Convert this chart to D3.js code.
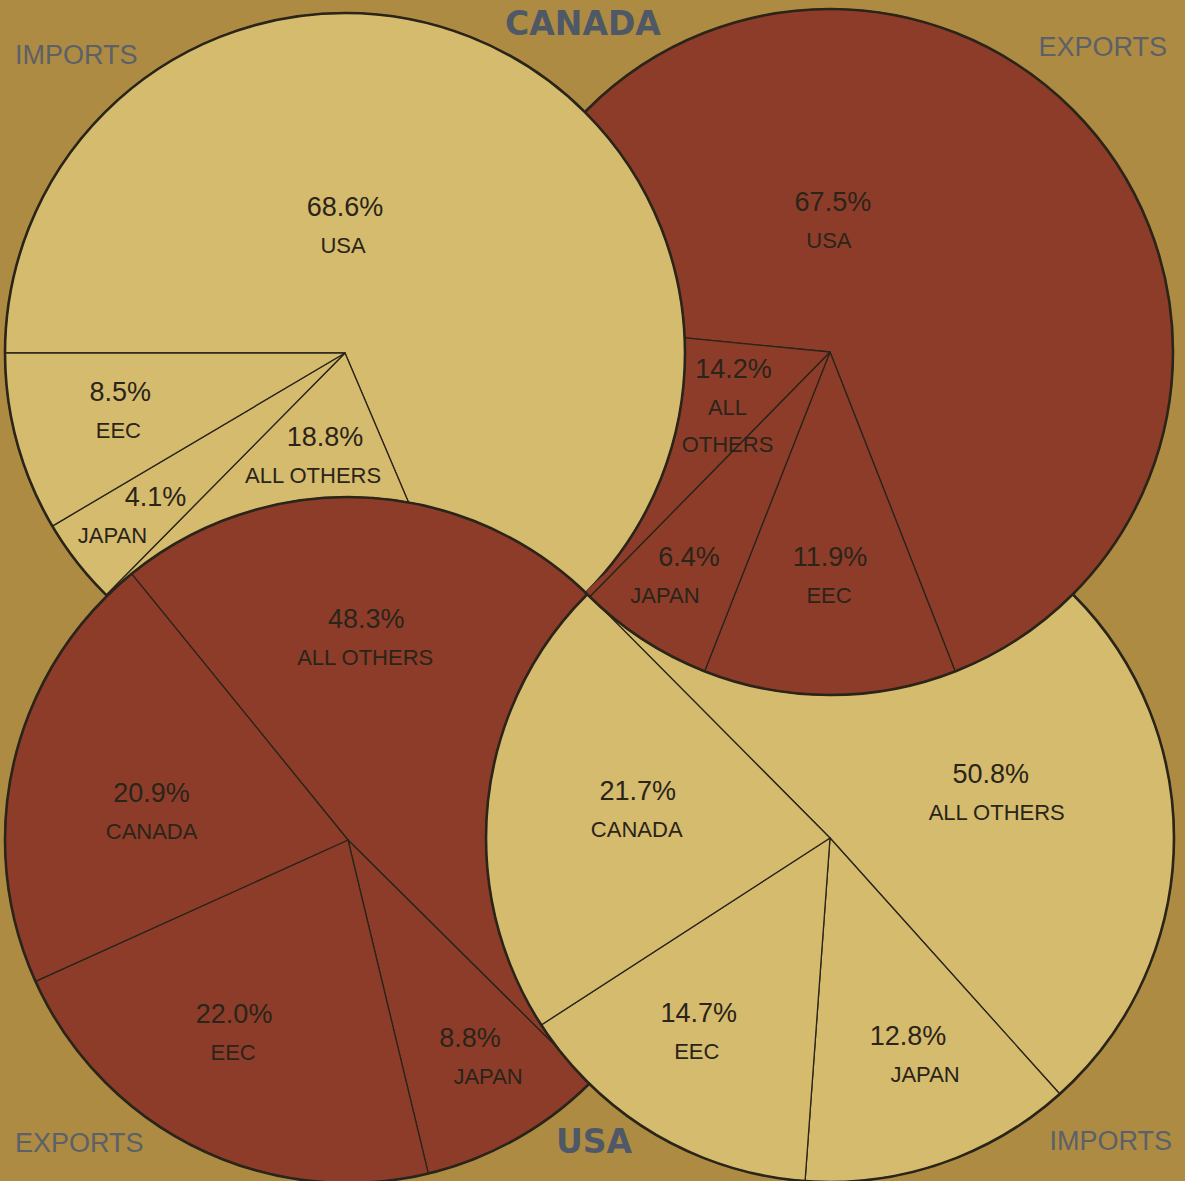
<!DOCTYPE html>
<html lang="en">
<head>
  <meta charset="UTF-8">
  <title>Canada / USA trade</title>
  <script src="https://d3js.org/d3.v7.min.js"></script>
  <style>
    body { margin: 0; padding: 0; background: #ad8b42; }
    svg { display: block; }
  </style>
</head>
<body>
  <svg id="chart"></svg>
  <script>
    // values (percent shares), in clockwise order
    const canadaImportsNames = ["USA", "ALL OTHERS", "JAPAN", "EEC"];
    const canadaImportsValues = [68.6, 18.8, 4.1, 8.5];

    const canadaExportsNames = ["USA", "EEC", "JAPAN", "ALL\nOTHERS"];
    const canadaExportsValues = [67.5, 11.9, 6.4, 14.2];

    const usaExportsNames = ["ALL OTHERS", "JAPAN", "EEC", "CANADA"];
    const usaExportsValues = [48.3, 8.8, 22.0, 20.9];

    const usaImportsNames = ["ALL OTHERS", "JAPAN", "EEC", "CANADA"];
    const usaImportsValues = [50.8, 12.8, 14.7, 21.7];

    const width = 1185, height = 1181;
    const yellow = "#d5bb6d", red = "#8d3c2a", ink = "#2a2419";
    const rad = d => d * Math.PI / 180;

    // layout of each pie: centre, radius, start angle, label spots [angle, distance, name dx]
    const pies = {
      canadaImports: { names: canadaImportsNames, values: canadaImportsValues, fill: yellow,
        cx: 345, cy: 353, r: 340, start: -90,
        labels: [[0, 146, -2], [193.4, 86, -12], [232.8, 238, -43], [260.2, 228, -2]] },
      canadaExports: { names: canadaExportsNames, values: canadaExportsValues, fill: red,
        cx: 830, cy: 352, r: 343, start: -84.4,
        labels: [[1.1, 150, -4], [180, 205, -1], [214.5, 249, -24], [260, 98, -6]] },
      usaExports: { names: usaExportsNames, values: usaExportsValues, fill: red,
        cx: 348, cy: 840, r: 343, start: -39.1,
        labels: [[4.7, 222, -1], [148.4, 233, 18], [213.2, 208, -1], [283.5, 202, 0]] },
      usaImports: { names: usaImportsNames, values: usaImportsValues, fill: yellow,
        cx: 830, cy: 838, r: 344, start: -44.8,
        labels: [[68.3, 173, 6], [158.5, 213, 17], [216.8, 219, -2], [283.8, 198, -1]] }
    };

    const svg = d3.select("#chart").attr("width", width).attr("height", height);
    svg.append("rect").attr("width", width).attr("height", height).attr("fill", "#ad8b42");

    function drawPie(parent, p) {
      const g = parent.append("g").attr("transform", `translate(${p.cx},${p.cy})`);
      const arcs = d3.pie().sort(null)
        .startAngle(rad(p.start)).endAngle(rad(p.start + 360))(p.values);
      const arc = d3.arc().innerRadius(0).outerRadius(p.r);

      g.selectAll("path.slice").data(arcs).join("path")
        .attr("class", "slice")
        .attr("d", arc)
        .attr("fill", p.fill)
        .attr("stroke", ink)
        .attr("stroke-width", 1.3)
        .attr("stroke-linejoin", "round");

      g.append("circle").attr("r", p.r)
        .attr("fill", "none").attr("stroke", ink).attr("stroke-width", 2.6);

      arcs.forEach((a, i) => {
        const [ang, dist, ndx] = p.labels[i];
        const [x, y] = d3.pointRadial(rad(ang), dist);
        const t = g.append("g").attr("transform", `translate(${x},${y + 9})`)
          .attr("font-family", "'Liberation Sans', Arial, sans-serif")
          .attr("fill", ink).attr("text-anchor", "middle");
        t.append("text").attr("font-size", 27).text(p.values[i].toFixed(1) + "%");
        p.names[i].split("\n").forEach((line, k) => {
          t.append("text").attr("x", ndx).attr("y", 37 * (k + 1))
            .attr("font-size", 22).text(line);
        });
      });
    }

    // stacking is cyclic: exports of Canada sit on top of USA imports,
    // so that pie is drawn a second time, clipped to the USA imports disc
    const bi = pies.usaImports;
    svg.append("clipPath").attr("id", "clipUsaImports")
      .append("circle").attr("cx", bi.cx).attr("cy", bi.cy).attr("r", bi.r + 3);

    drawPie(svg, pies.canadaExports);
    drawPie(svg, pies.canadaImports);
    drawPie(svg, pies.usaExports);
    drawPie(svg, pies.usaImports);
    drawPie(svg.append("g").attr("clip-path", "url(#clipUsaImports)"), pies.canadaExports);

    // titles
    const titleFont = "'DejaVu Sans', sans-serif";
    svg.append("text").attr("x", 583).attr("y", 35).attr("text-anchor", "middle")
      .attr("font-family", titleFont).attr("font-weight", "bold").attr("font-size", 33)
      .attr("fill", "#4f5866").text("CANADA");
    svg.append("text").attr("x", 594).attr("y", 1153).attr("text-anchor", "middle")
      .attr("font-family", titleFont).attr("font-weight", "bold").attr("font-size", 33)
      .attr("fill", "#4f5866").text("USA");

    const sideLabels = [
      ["IMPORTS", 15, 64, "start"],
      ["EXPORTS", 1167, 56, "end"],
      ["EXPORTS", 15, 1152, "start"],
      ["IMPORTS", 1172, 1150, "end"]
    ];
    svg.selectAll("text.side").data(sideLabels).join("text")
      .attr("class", "side")
      .attr("x", d => d[1]).attr("y", d => d[2])
      .attr("text-anchor", d => d[3])
      .attr("font-family", "'Liberation Sans', Arial, sans-serif")
      .attr("font-size", 27)
      .attr("fill", "#5c6069")
      .text(d => d[0]);
  </script>
</body>
</html>
